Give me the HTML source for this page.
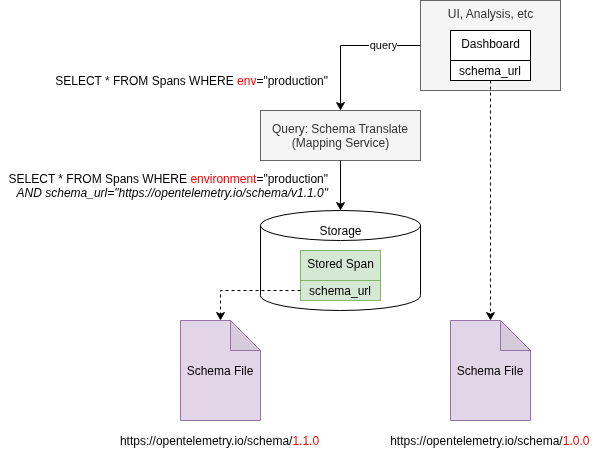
<!DOCTYPE html>
<html><head><meta charset="utf-8">
<style>
html,body{margin:0;padding:0;background:#fff;}
svg{display:block;will-change:transform;}
text{font-family:"Liberation Sans",sans-serif;font-size:12px;}
</style></head><body>
<svg width="601" height="451" viewBox="0 0 601 451" xmlns="http://www.w3.org/2000/svg">
<!-- UI box -->
<rect x="420.5" y="0.5" width="140" height="90" fill="#f5f5f5" stroke="#666666"/>
<text x="490.5" y="17.5" text-anchor="middle" fill="#333333">UI, Analysis, etc</text>
<!-- Dashboard -->
<rect x="450.5" y="30.5" width="80" height="50" fill="#ffffff" stroke="#000000"/>
<line x1="450.5" y1="60.5" x2="530.5" y2="60.5" stroke="#000"/>
<text x="490.5" y="47.5" text-anchor="middle" fill="#000">Dashboard</text>
<text x="490" y="74.5" text-anchor="middle" fill="#000">schema_url</text>
<!-- query connector -->
<path d="M420.5 45.5 H340.5 V104" fill="none" stroke="#000"/>
<path d="M340.5 109.5 L336.6 102.5 L340.5 104.25 L344.4 102.5 Z" fill="#000" stroke="#000"/>
<rect x="369" y="39" width="28" height="12" fill="#fff"/>
<text x="383.5" y="48.5" text-anchor="middle" fill="#000" style="font-size:11px">query</text>
<!-- SELECT 1 -->
<text x="328" y="85" text-anchor="end" fill="#000">SELECT * FROM Spans WHERE <tspan fill="#ff0000">env</tspan>="production"</text>
<!-- Query translate -->
<rect x="260.5" y="110.5" width="160" height="50" fill="#f5f5f5" stroke="#666666"/>
<text x="340" y="132.5" text-anchor="middle" fill="#333333">Query: Schema Translate</text>
<text x="340.5" y="146.5" text-anchor="middle" fill="#333333">(Mapping Service)</text>
<!-- connector 2 -->
<path d="M340.5 160.5 V204" fill="none" stroke="#000"/>
<path d="M340.5 209.5 L336.6 202.5 L340.5 204.25 L344.4 202.5 Z" fill="#000" stroke="#000"/>
<!-- SELECT 2 -->
<text x="328" y="182.5" text-anchor="end" fill="#000">SELECT * FROM Spans WHERE <tspan fill="#ff0000">environment</tspan>="production"</text>
<text x="328" y="196.5" text-anchor="end" fill="#000" font-style="italic">AND schema_url="https://opentelemetry.io/schema/v1.1.0"</text>
<!-- Storage cylinder -->
<path d="M260.5 225.5 A80 15 0 0 1 420.5 225.5 V295.5 A80 15 0 0 1 260.5 295.5 Z" fill="#fff" stroke="#000"/>
<path d="M260.5 225.5 A80 15 0 0 0 420.5 225.5" fill="none" stroke="#000"/>
<text x="340.5" y="234.5" text-anchor="middle" fill="#000">Storage</text>
<!-- Stored span -->
<rect x="300.5" y="250.5" width="80" height="50" fill="#d5e8d4" stroke="#82b366"/>
<line x1="300.5" y1="280.5" x2="380.5" y2="280.5" stroke="#82b366"/>
<text x="340.5" y="267.5" text-anchor="middle" fill="#000">Stored Span</text>
<text x="340" y="294.5" text-anchor="middle" fill="#000">schema_url</text>
<!-- dashed connector left -->
<path d="M300.5 290.5 H220.5 V314" fill="none" stroke="#000" stroke-dasharray="3 3"/>
<path d="M220.5 319.5 L216.6 312.5 L220.5 314.25 L224.4 312.5 Z" fill="#000" stroke="#000"/>
<!-- dashed connector right -->
<path d="M490.5 80.5 V314" fill="none" stroke="#000" stroke-dasharray="3 3"/>
<path d="M490.5 319.5 L486.6 312.5 L490.5 314.25 L494.4 312.5 Z" fill="#000" stroke="#000"/>
<!-- Schema file 1 -->
<path d="M180.5 320.5 H230.5 L260.5 350.5 V420.5 H180.5 Z" fill="#e1d5e7" stroke="#9673a6"/>
<path d="M230.5 320.5 V350.5 H260.5 Z" fill="#d6cadb" stroke="#9673a6"/>
<text x="220" y="374.5" text-anchor="middle" fill="#000">Schema File</text>
<text x="219.5" y="444.5" text-anchor="middle" fill="#000">https://opentelemetry.io/schema/<tspan fill="#ff0000">1.1.0</tspan></text>
<!-- Schema file 2 -->
<path d="M450.5 320.5 H500.5 L530.5 350.5 V420.5 H450.5 Z" fill="#e1d5e7" stroke="#9673a6"/>
<path d="M500.5 320.5 V350.5 H530.5 Z" fill="#d6cadb" stroke="#9673a6"/>
<text x="490" y="374.5" text-anchor="middle" fill="#000">Schema File</text>
<text x="489.8" y="444.5" text-anchor="middle" fill="#000">https://opentelemetry.io/schema/<tspan fill="#ff0000">1.0.0</tspan></text>
</svg>
</body></html>
